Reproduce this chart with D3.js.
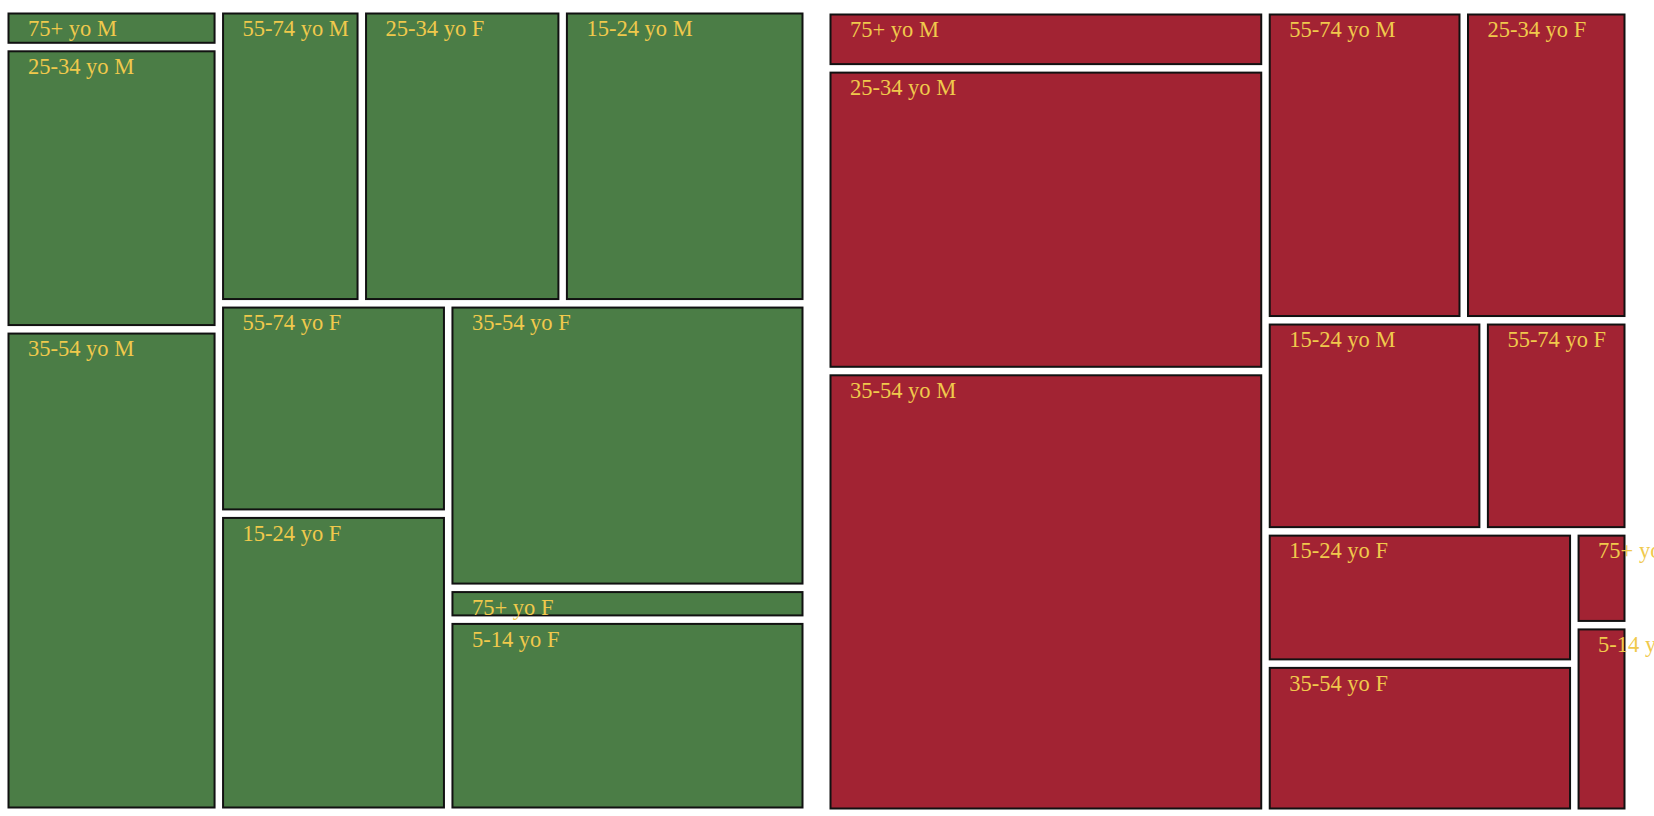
<!DOCTYPE html>
<html>
<head>
<meta charset="utf-8">
<script src="https://cdn.jsdelivr.net/npm/d3@7"></script>
<style>
  html, body { margin: 0; padding: 0; background: #ffffff; overflow: hidden; }
  svg { display: block; }
</style>
</head>
<body>
<svg id="chart" width="1654" height="816"></svg>
<script>
// Categories in the order they are laid out (unsorted)
const categories = ["75+ yo M", "25-34 yo M", "35-54 yo M", "55-74 yo M", "25-34 yo F",
                    "15-24 yo M", "55-74 yo F", "15-24 yo F", "35-54 yo F", "75+ yo F", "5-14 yo F"];
// Values
const leftValues  = [81, 605, 1034, 420, 590, 717, 482, 683, 1019, 114, 688];
const rightValues = [255, 1328, 1938, 614, 511, 460, 306, 408, 460, 51, 102];

const leftColor = "#4b7d46";
const rightColor = "#a22333";
const textColor = "#f0c94c";

const svg = d3.select("#chart");
const size = 796;
const strokeW = 2;

function drawTreemap(values, color, tx, ty) {
  const data = { name: "root", children: categories.map((c, i) => ({ name: c, value: values[i] })) };
  const root = d3.hierarchy(data).sum(d => d.value || 0);
  d3.treemap()
    .tile(d3.treemapSquarify)
    .size([size, size])
    .paddingInner(6.5)(root);

  const g = svg.append("g").attr("transform", `translate(${tx},${ty})`);
  const leaves = root.leaves();

  g.selectAll("rect")
    .data(leaves)
    .join("rect")
    .attr("x", d => d.x0 + strokeW / 2)
    .attr("y", d => d.y0 + strokeW / 2)
    .attr("width", d => Math.max(0, d.x1 - d.x0 - strokeW))
    .attr("height", d => Math.max(0, d.y1 - d.y0 - strokeW))
    .attr("fill", color)
    .attr("stroke", "#111")
    .attr("stroke-width", strokeW);

  g.selectAll("text")
    .data(leaves)
    .join("text")
    .attr("x", d => d.x0 + 20.5)
    .attr("y", d => d.y0 + 23.7)
    .attr("fill", textColor)
    .style("font-family", "'Liberation Serif', 'Times New Roman', Times, serif")
    .style("font-size", "22.5px")
    .text(d => d.data.name);
}

drawTreemap(leftValues, leftColor, 7.5, 12.5);
drawTreemap(rightValues, rightColor, 829.5, 13.5);
</script>
</body>
</html>
